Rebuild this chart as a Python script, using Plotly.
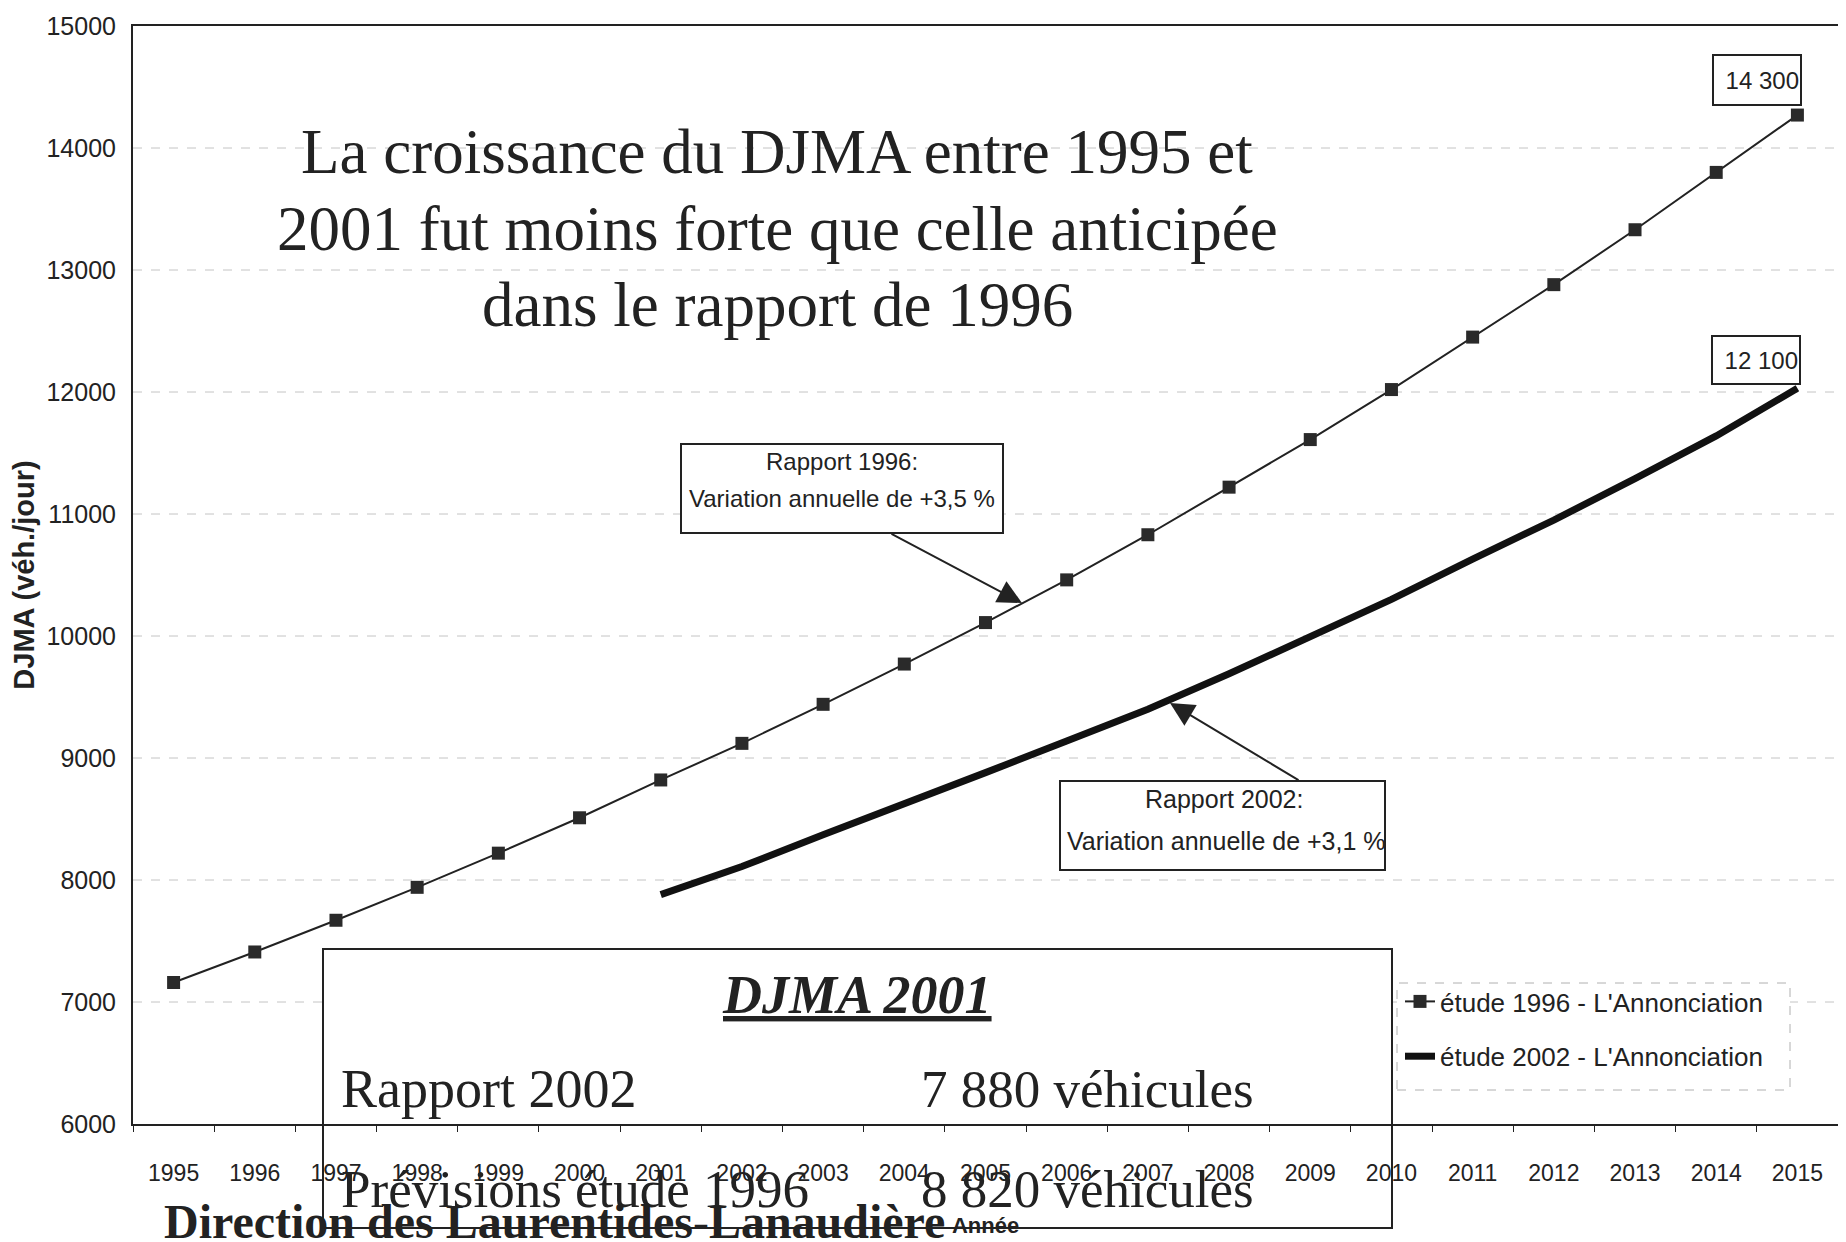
import plotly.graph_objects as go

# ---------------- data ----------------
years = [str(y) for y in range(1995, 2016)]
etude_1996 = [7160, 7410, 7670, 7940, 8220, 8510, 8820, 9120, 9440, 9770, 10110,
              10460, 10830, 11220, 11610, 12020, 12450, 12880, 13330, 13800, 14270]
years_2002 = [str(y) for y in range(2001, 2016)]
etude_2002 = [7880, 8110, 8370, 8620, 8880, 9140, 9400, 9690, 9990, 10300,
              10630, 10950, 11290, 11640, 12030]
series_names = ["étude 1996 - L'Annonciation", "étude 2002 - L'Annonciation"]
y_ticks = list(range(6000, 15001, 1000))
y_ticktext = [str(v) for v in y_ticks]
end_labels = ["14 300", "12 100"]

title_lines = ["La croissance du DJMA entre 1995 et",
               "2001 fut moins forte que celle anticipée",
               "dans le rapport de 1996"]

SANS = "Liberation Sans, Arial, sans-serif"
SERIF = "Liberation Serif, Times New Roman, serif"
INK = "#222222"

fig = go.Figure()
fig.add_trace(go.Scatter(
    x=years, y=etude_1996, name=series_names[0], mode="lines+markers",
    line=dict(color=INK, width=2),
    marker=dict(symbol="square", size=13, color="#2a2a2a"),
    legendgroup="a"))
fig.add_trace(go.Scatter(
    x=years_2002, y=etude_2002, name=series_names[1], mode="lines",
    line=dict(color="#111111", width=7),
    legendgroup="b"))

# page body has an 8px default margin: figure is drawn at (8, 8)
OFF = 8
W, H = 1846 - OFF, 1242 - OFF
L, R, T, B = 133 - OFF, 8, 26 - OFF, 118
PW, PH = W - L - R, H - T - B


def px(x):
    return (x - OFF - L) / PW


def py(y):
    return (H - B - (y - OFF)) / PH


shapes = []
# horizontal gridlines on the y scale (so boxes can cover them)
for v in y_ticks[1:-1]:
    shapes.append(dict(type="line", xref="paper", yref="y", layer="below",
                       x0=0, x1=1, y0=v, y1=v,
                       line=dict(color="#c4c4c4", width=1, dash="dash")))
# DJMA 2001 box
shapes.append(dict(type="rect", xref="paper", yref="paper", layer="below",
                   x0=px(323), x1=px(1392), y0=py(1228), y1=py(949),
                   fillcolor="white", line=dict(color=INK, width=2)))
# dashed legend frame
shapes.append(dict(type="rect", xref="paper", yref="paper", layer="below",
                   x0=px(1397), x1=px(1790), y0=py(1090), y1=py(983),
                   fillcolor="white", line=dict(color="#b0b0b0", width=1, dash="dash")))
# callout boxes
shapes.append(dict(type="rect", xref="paper", yref="paper", layer="above",
                   x0=px(681), x1=px(1003), y0=py(533), y1=py(444),
                   fillcolor="white", line=dict(color=INK, width=2)))
shapes.append(dict(type="rect", xref="paper", yref="paper", layer="above",
                   x0=px(1060), x1=px(1385), y0=py(870), y1=py(781),
                   fillcolor="white", line=dict(color=INK, width=2)))


def txt(text, x, y, size, family=SERIF, xanchor="center"):
    return dict(text=text, xref="paper", yref="paper", x=px(x), y=py(y),
                xanchor=xanchor, yanchor="middle", showarrow=False,
                font=dict(family=family, size=size, color=INK))


annotations = []
for line, yy in zip(title_lines, [152, 229, 305]):
    annotations.append(txt(line, 777, yy, 63))

annotations += [
    txt("Rapport 1996:", 842, 462, 24, SANS),
    txt("Variation annuelle de +3,5 %", 842, 499, 24, SANS),
    txt("Rapport 2002:", 1224, 799, 25, SANS),
    txt("Variation annuelle de +3,1 %", 1226, 841, 25, SANS),
    dict(text="", xref="paper", yref="paper", x=px(1022), y=py(603),
         ax=890 - 1022, ay=533 - 603, axref="pixel", ayref="pixel",
         showarrow=True, arrowhead=2, arrowsize=2.4, arrowwidth=2, arrowcolor=INK),
    dict(text="", xref="paper", yref="paper", x=px(1170), y=py(703),
         ax=1300 - 1170, ay=781 - 703, axref="pixel", ayref="pixel",
         showarrow=True, arrowhead=2, arrowsize=2.4, arrowwidth=2, arrowcolor=INK),
    # end value labels
    dict(text=end_labels[0], xref="paper", yref="paper", x=px(1757), y=py(80),
         xanchor="center", yanchor="middle", showarrow=False, align="right",
         width=84, height=46, borderpad=1, bordercolor=INK, borderwidth=2, bgcolor="white",
         font=dict(family=SANS, size=24, color=INK)),
    dict(text=end_labels[1], xref="paper", yref="paper", x=px(1756), y=py(360),
         xanchor="center", yanchor="middle", showarrow=False, align="right",
         width=84, height=44, borderpad=1, bordercolor=INK, borderwidth=2, bgcolor="white",
         font=dict(family=SANS, size=24, color=INK)),
    # DJMA 2001 box content
    txt("<b><i><u>DJMA 2001</u></i></b>", 857, 995, 54),
    txt("Rapport 2002", 339, 1089, 54, xanchor="left"),
    txt("7 880 véhicules", 919, 1089, 53, xanchor="left"),
    txt("Prévisions étude 1996", 339, 1189, 53, xanchor="left"),
    txt("8 820 véhicules", 919, 1189, 53, xanchor="left"),
    txt("<b>Direction des Laurentides-Lanaudière</b>", 162, 1221, 48, xanchor="left"),
]

fig.update_layout(
    width=W, height=H,
    margin=dict(l=L, r=R, t=T, b=B, autoexpand=False),
    paper_bgcolor="white", plot_bgcolor="white",
    font=dict(family=SANS, color=INK),
    showlegend=True,
    legend=dict(x=px(1400), y=py(978), xanchor="left", yanchor="top",
                bgcolor="rgba(0,0,0,0)", font=dict(family=SANS, size=26, color=INK),
                tracegroupgap=18, itemwidth=30),
    shapes=shapes,
    annotations=annotations,
)

fig.update_xaxes(
    type="category", categoryorder="array", categoryarray=years,
    range=[-0.5, len(years) - 0.5],
    tickmode="array", tickvals=years, ticktext=years,
    showline=True, linecolor=INK, linewidth=2, mirror=True,
    ticks="outside", tickson="boundaries", ticklen=6, tickcolor=INK,
    ticklabelstandoff=27,
    tickfont=dict(family=SANS, size=23, color=INK),
    showgrid=False,
    title=dict(text="<b>Année</b>", font=dict(family=SANS, size=22, color=INK), standoff=33),
    automargin=False,
)
fig.update_yaxes(
    range=[6000, 15000], tickmode="array", tickvals=y_ticks, ticktext=y_ticktext,
    showline=True, linecolor=INK, linewidth=2, mirror=True,
    ticks="", ticklabelstandoff=10,
    tickfont=dict(family=SANS, size=25, color=INK),
    showgrid=False,
    zeroline=False,
    title=dict(text="<b>DJMA (véh./jour)</b>", font=dict(family=SANS, size=29, color=INK), standoff=8),
    automargin=False,
)

fig.write_html("out.html")
